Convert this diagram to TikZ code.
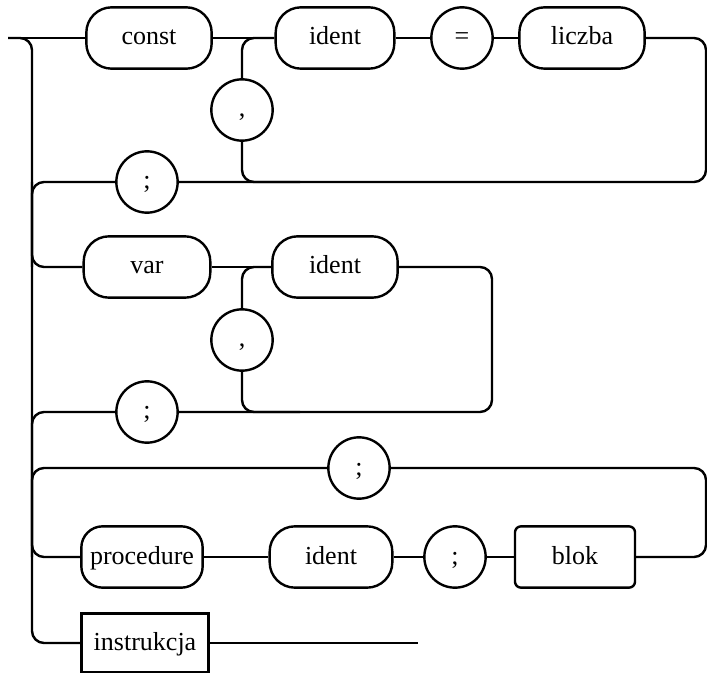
\documentclass[tikz,border=0pt]{standalone}
\usepackage{fontspec}
\setmainfont{Liberation Serif}
\begin{document}
\begin{tikzpicture}[x=0.75pt,y=0.75pt,yscale=-1,xscale=1,line width=1.8pt,
  every node/.style={draw,inner sep=0pt,text height=13pt,text depth=2.5pt,font=\fontsize{19.5}{23}\selectfont},
  term/.style={rounded corners=19pt,minimum width=93pt,minimum height=46pt},
  sym/.style={circle,minimum size=46pt},
  rect/.style={minimum width=90pt,minimum height=46pt},
  rnd/.style={rounded corners=9pt}]
\useasboundingbox (0,0) rectangle (707,673);

% Text Node
\node [term,minimum width=94pt] (const) at (149,38) {const};
\node [term,minimum width=89pt] (ident) at (335,38) {ident};
\node [sym] (eq) at (462,38) {=};
\node [term,minimum width=94pt] (liczba) at (582,38) {liczba};
\node [sym] (comma) at (242,110) {,};
\node [sym] (semi) at (147,182) {;};
% Text Node
\node [term,minimum width=95pt] (var) at (147,267) {var};
\node [term,minimum width=94pt] (identv) at (335,267) {ident};
\node [sym] (commav) at (242,340) {,};
\node [sym] (semiv) at (147,412) {;};
% Text Node
\node [sym] (semip) at (359,468) {;};
\node [term,minimum width=91pt,rounded corners=16pt] (proc) at (142,557) {procedure};
\node [term,minimum width=92pt] (identp) at (331,557) {ident};
\node [sym] (semib) at (455,557) {;};
\node [rect,rounded corners=4.5pt] (blok) at (575,557) {blok};
\node [rect,minimum width=95pt,minimum height=44pt] (instr) at (145,643) {instrukcja};

\coordinate (start) at (8,38);
\coordinate (lb) at (32,643);
\coordinate (rta) at (706,38);
\coordinate (rtb) at (706,182);
\coordinate (cj) at (300,182);
\coordinate (rva) at (492,267);
\coordinate (rvb) at (492,412);
\coordinate (cvj) at (300,412);
\coordinate (rpa) at (706,468);
\coordinate (rpb) at (706,557);
\coordinate (stop) at (418,643);

%Straight Lines: left rail
\draw [rnd] (start) -| (lb) -- (instr);
\draw [rnd] (semi) -| (lb |- var);
\draw [rnd] (lb |- semi) |- (var);
\draw [rnd] (semiv) -| (lb |- semip);
\draw [rnd] (semip) -| (lb |- proc);
\draw [rnd] (lb |- semip) |- (proc);
%Straight Lines: const
\draw (start) -- (const) -- (ident) -- (eq) -- (liczba);
\draw [rnd] (liczba) -- (rta) -- (rtb) -- (semi);
\draw [rnd] (comma) |- (ident);
\draw [rnd] (comma) |- (cj);
%Straight Lines: var
\draw (var) -- (identv);
\draw [rnd] (identv) -- (rva) -- (rvb) -- (semiv);
\draw [rnd] (commav) |- (identv);
\draw [rnd] (commav) |- (cvj);
%Straight Lines: procedure
\draw (proc) -- (identp) -- (semib) -- (blok);
\draw [rnd] (semip) -- (rpa) -- (rpb) -- (blok);
%Straight Lines: instrukcja
\draw (instr) -- (stop);

\end{tikzpicture}
\end{document}
